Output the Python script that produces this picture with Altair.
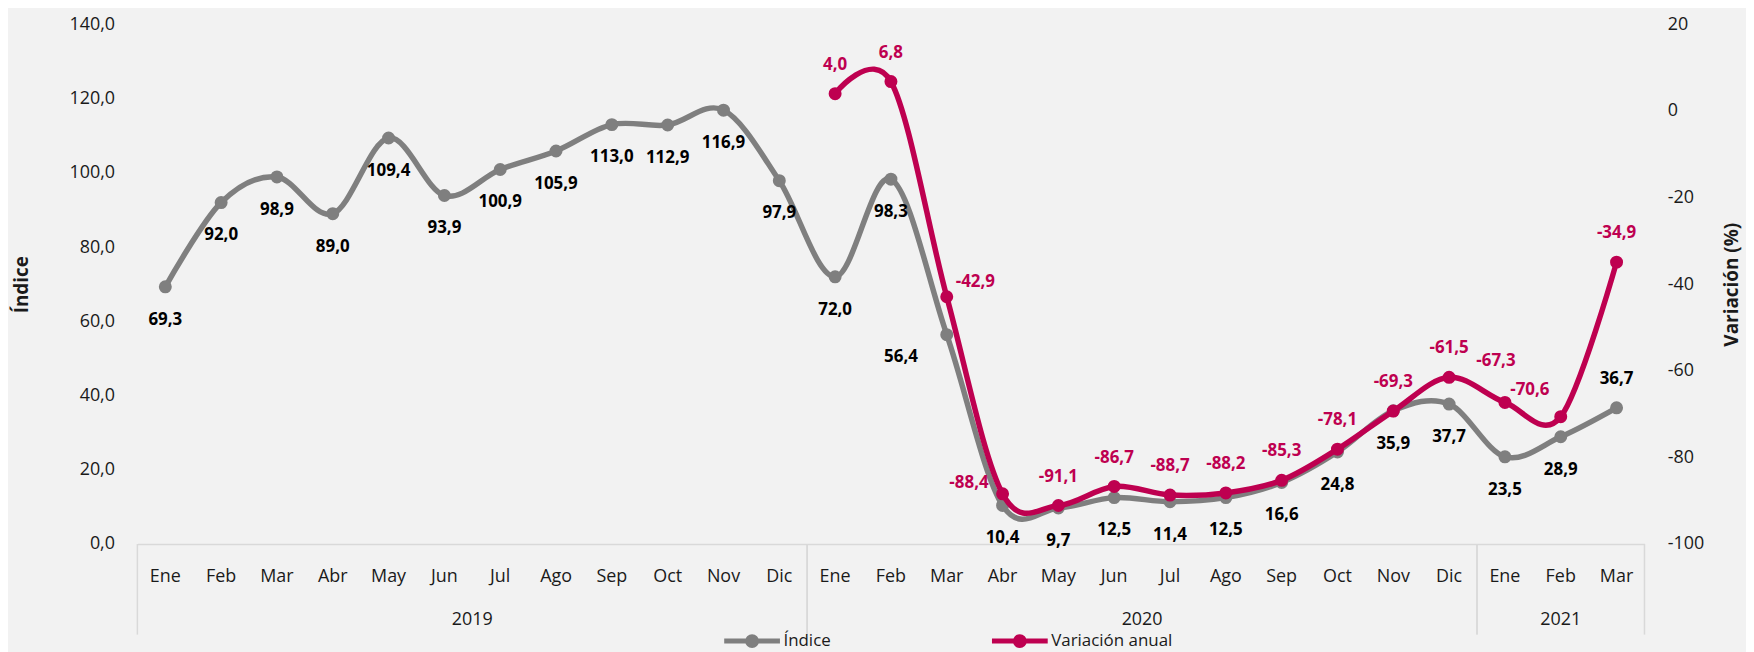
import altair as alt
import pandas as pd

# ---------------- data ----------------
meses = ['Ene', 'Feb', 'Mar', 'Abr', 'May', 'Jun', 'Jul', 'Ago', 'Sep', 'Oct', 'Nov', 'Dic',
         'Ene', 'Feb', 'Mar', 'Abr', 'May', 'Jun', 'Jul', 'Ago', 'Sep', 'Oct', 'Nov', 'Dic',
         'Ene', 'Feb', 'Mar']
anios = ['2019'] * 12 + ['2020'] * 12 + ['2021'] * 3
indice = [69.3, 92.0, 98.9, 89.0, 109.4, 93.9, 100.9, 105.9, 113.0, 112.9, 116.9, 97.9,
          72.0, 98.3, 56.4, 10.4, 9.7, 12.5, 11.4, 12.5, 16.6, 24.8, 35.9, 37.7,
          23.5, 28.9, 36.7]
variacion = [None] * 12 + [4.0, 6.8, -42.9, -88.4, -91.1, -86.7, -88.7, -88.2, -85.3,
                           -78.1, -69.3, -61.5, -67.3, -70.6, -34.9]
series = ['Índice', 'Variación anual']

# label placement codes (style only)
pos_indice = ['below'] * 14 + ['left'] + ['below'] * 11 + ['above']
pos_variacion = [None] * 12 + ['above', 'above', 'right', 'leftup', 'above', 'above', 'above',
                               'above', 'above', 'above', 'above', 'above', 'lab67', 'lab70',
                               'above']

LABEL_STYLE = {
    'below': dict(dx=0, dy=33, align='center'),
    'above': dict(dx=0, dy=-29, align='center'),
    'left': dict(dx=-29, dy=22, align='right'),
    'right': dict(dx=9, dy=-15, align='left'),
    'leftup': dict(dx=-14, dy=-11, align='right'),
    'lab67': dict(dx=-9, dy=-42, align='center'),
    'lab70': dict(dx=-31, dy=-27, align='center'),
}

GRAY = '#7F7F7F'
RED = '#BE0050'
FONT = 'Open Sans'
TXT = '#1A1A1A'
W, H = 1514, 522

df = pd.DataFrame({
    'idx': list(range(len(meses))),
    'mes': meses,
    'anio': anios,
    'indice': indice,
    'variacion': variacion,
    'pos_i': pos_indice,
    'pos_v': pos_variacion,
})

XSCALE = alt.Scale(domain=[-0.5, len(meses) - 0.5], nice=False, zero=False)
XAXIS = alt.Axis(labels=False, ticks=False, grid=False, title=None,
                 domainColor='#D9D9D9', domainWidth=1.5)


def xenc(field):
    return alt.X(f'{field}:Q', scale=XSCALE, axis=XAXIS, title=None)


# legend symbol: a wide line with a dot (path spans -2..2 on a 28px symbol)
COLOR = alt.Color('serie:N', scale=alt.Scale(domain=series, range=[GRAY, RED]),
                  legend=alt.Legend(
                      orient='none', legendX=601, legendY=603, direction='horizontal',
                      title=None, padding=0,
                      symbolType='M-2,0L2,0M-0.32,0A0.32,0.32 0 1,1 0.32,0A0.32,0.32 0 1,1 -0.32,0',
                      symbolSize=784, symbolStrokeWidth=5,
                      labelFont=FONT, labelFontSize=17, labelColor=TXT,
                      labelOffset=15, columnPadding=151))

fmt_expr = "replace(replace(format(datum.{f}, '.1f'), '.', ','), '\u2212', '-')"

base = alt.Chart(df)

# ---------------- left axis: Índice ----------------
yleft = alt.Y('indice:Q', scale=alt.Scale(domain=[0, 140], nice=False, zero=True),
              axis=alt.Axis(values=list(range(0, 141, 20)),
                            labelExpr="replace(format(datum.value, '.1f'), '.', ',')",
                            grid=False, domain=False, ticks=False, labelPadding=23,
                            labelFontSize=18, labelFont=FONT, labelColor=TXT,
                            title='Índice', titleFont=FONT, titleFontSize=19,
                            titleFontWeight='bold', titleColor=TXT,
                            titleAngle=270, titleX=-116, titleY=H / 2,
                            titleBaseline='middle', titleAlign='center'))

line_i = base.transform_calculate(serie=f"'{series[0]}'").mark_line(
    interpolate='cardinal', strokeWidth=5.5).encode(
    x=xenc('idx'), y=yleft, color=COLOR)
pts_i = base.mark_point(filled=True, size=170, opacity=1, color=GRAY).encode(
    x=xenc('idx'), y=yleft)

lab_i = []
for code, st in LABEL_STYLE.items():
    if code not in pos_indice:
        continue
    lab_i.append(
        base.transform_filter(alt.datum.pos_i == code)
        .transform_calculate(lbl=fmt_expr.format(f='indice'))
        .mark_text(font=FONT, fontSize=17, fontWeight='bold', color='black',
                   baseline='middle', **st)
        .encode(x=xenc('idx'), y=yleft, text='lbl:N'))

left_layer = alt.layer(line_i, pts_i, *lab_i)

# ---------------- right axis: Variación ----------------
yright = alt.Y('variacion:Q', scale=alt.Scale(domain=[-100, 20], nice=False, zero=False),
               axis=alt.Axis(orient='right', values=list(range(-100, 21, 20)),
                             labelExpr="datum.value + ''",
                             grid=False, domain=False, ticks=False, labelPadding=23,
                             labelAlign='left',
                             labelFontSize=18, labelFont=FONT, labelColor=TXT,
                             title='Variación (%)', titleFont=FONT, titleFontSize=19,
                             titleFontWeight='bold', titleColor=TXT,
                             titleAngle=270, titleX=87, titleY=H / 2,
                             titleBaseline='middle', titleAlign='center'))

vbase = base.transform_filter('isValid(datum.variacion)')
line_v = vbase.transform_calculate(serie=f"'{series[1]}'").mark_line(
    interpolate='cardinal', strokeWidth=5.5).encode(
    x=xenc('idx'), y=yright, color=COLOR)
pts_v = vbase.mark_point(filled=True, size=170, opacity=1, color=RED).encode(
    x=xenc('idx'), y=yright)

lab_v = []
for code, st in LABEL_STYLE.items():
    if code not in pos_variacion:
        continue
    lab_v.append(
        vbase.transform_filter(alt.datum.pos_v == code)
        .transform_calculate(lbl=fmt_expr.format(f='variacion'))
        .mark_text(font=FONT, fontSize=17, fontWeight='bold', color=RED,
                   baseline='middle', **st)
        .encode(x=xenc('idx'), y=yright, text='lbl:N'))

right_layer = alt.layer(line_v, pts_v, *lab_v)

# ---------------- category axis (months / years / separators) ----------------
month_txt = base.mark_text(font=FONT, fontSize=18, color=TXT, baseline='middle').encode(
    x=xenc('idx'), y=alt.value(H + 33), text='mes:N')

year_txt = base.transform_aggregate(centro='mean(idx)', groupby=['anio']).mark_text(
    font=FONT, fontSize=18, color=TXT, baseline='middle').encode(
    x=xenc('centro'), y=alt.value(H + 76), text='anio:N')

sep_lo = base.transform_aggregate(lo='min(idx)', groupby=['anio']).transform_calculate(
    edge='datum.lo - 0.5').mark_rule(color='#D9D9D9', strokeWidth=1.5).encode(
    x=xenc('edge'), y=alt.value(H), y2=alt.value(H + 91))
sep_hi = base.transform_aggregate(hi='max(idx)', groupby=['anio']).transform_calculate(
    edge='datum.hi + 0.5').mark_rule(color='#D9D9D9', strokeWidth=1.5).encode(
    x=xenc('edge'), y=alt.value(H), y2=alt.value(H + 91))

decor = alt.layer(sep_lo, sep_hi, month_txt, year_txt)

chart = alt.layer(decor, left_layer, right_layer).resolve_scale(
    y='independent'
).properties(
    width=W, height=H,
    autosize=alt.AutoSizeParams(type='none'),
    padding={'left': 130, 'top': 15, 'right': 102, 'bottom': 107},
    background='#F2F2F2',
).configure_view(stroke=None)

chart.save('out.html', embed_options={'renderer': 'svg', 'actions': False})
